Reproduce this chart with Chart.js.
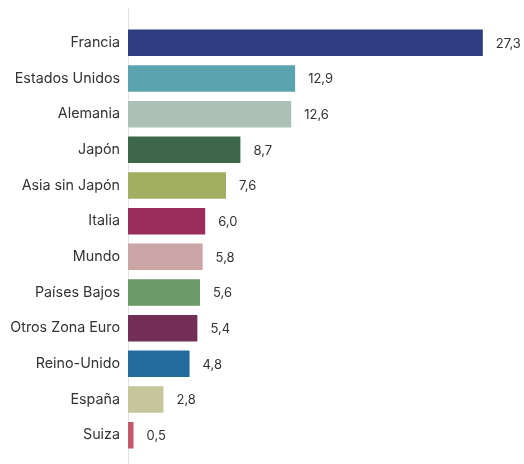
<!DOCTYPE html>
<html>
<head>
<meta charset="utf-8">
<script src="https://cdn.jsdelivr.net/npm/chart.js@4/dist/chart.umd.min.js"></script>
<style>
  html, body { margin: 0; padding: 0; background: #fff; }
</style>
</head>
<body>
<canvas id="chart" width="524" height="464"></canvas>
<script>
const categories = ['Francia', 'Estados Unidos', 'Alemania', 'Japón', 'Asia sin Japón', 'Italia',
  'Mundo', 'Países Bajos', 'Otros Zona Euro', 'Reino-Unido', 'España', 'Suiza']
const values = [27.3, 12.9, 12.6, 8.7, 7.6, 6.0, 5.8, 5.6, 5.4, 4.8, 2.8, 0.5]
const barColors = ['#2e3d80', '#5ba3ae', '#adc0b8', '#3d664a', '#a2ae62', '#9a2c5e',
  '#cba4a6', '#6b9a66', '#732e56', '#246c9e', '#c6c69c', '#c6576a']

const fontFamily = 'Inter, "Noto Sans", sans-serif'

// vertical axis line, drawn taller than the plot area like in the reference
const axisLine = {
  id: 'axisLine',
  beforeDatasetsDraw (chart) {
    const ctx = chart.ctx
    const x = Math.round(chart.chartArea.left) + 0.5
    ctx.save()
    ctx.strokeStyle = '#e2e2e2'
    ctx.lineWidth = 1
    ctx.beginPath()
    ctx.moveTo(x, 8)
    ctx.lineTo(x, chart.height)
    ctx.stroke()
    ctx.restore()
  }
}

// value labels at the end of each bar
const valueLabels = {
  id: 'valueLabels',
  afterDatasetsDraw (chart) {
    const ctx = chart.ctx
    const meta = chart.getDatasetMeta(0)
    ctx.save()
    ctx.font = '13px ' + fontFamily
    ctx.fillStyle = '#333'
    ctx.textAlign = 'left'
    ctx.textBaseline = 'middle'
    meta.data.forEach((bar, i) => {
      ctx.fillText(values[i].toFixed(1).replace('.', ','), bar.x + 12, bar.y + 1)
    })
    ctx.restore()
  }
}

new Chart(document.getElementById('chart').getContext('2d'), {
  type: 'bar',
  data: {
    labels: categories,
    datasets: [{
      data: values,
      backgroundColor: barColors,
      borderColor: 'rgba(255,255,255,0.4)',
      borderWidth: 1,
      barPercentage: 0.8,
      categoryPercentage: 1
    }]
  },
  options: {
    indexAxis: 'y',
    responsive: false,
    animation: false,
    layout: { padding: { top: 25, bottom: 11, right: 5, left: 0 } },
    plugins: {
      legend: { display: false },
      tooltip: { enabled: false }
    },
    scales: {
      x: { display: false, min: 0, max: 30 },
      y: {
        afterFit (scale) {
          scale.width = 128
          scale.paddingTop = 0
          scale.paddingBottom = 0
        },
        grid: { display: false, drawTicks: false },
        border: { display: false },
        ticks: {
          padding: 8,
          color: '#333',
          font: { family: fontFamily, size: 14.3 }
        }
      }
    }
  },
  plugins: [axisLine, valueLabels]
})
</script>
</body>
</html>
